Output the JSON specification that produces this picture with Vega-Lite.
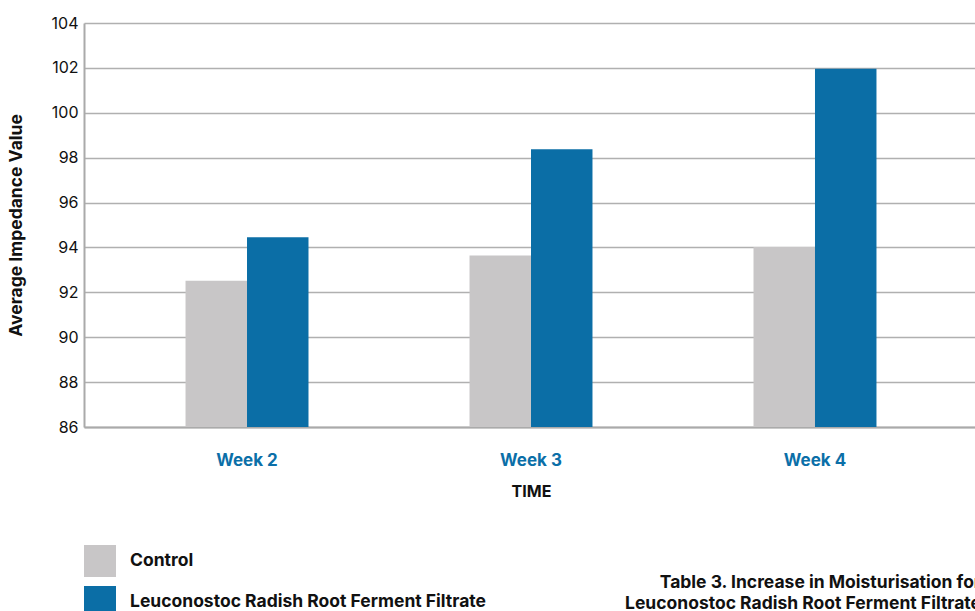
{
  "$schema": "https://vega.github.io/schema/vega-lite/v6.json",
  "autosize": {"type": "none"},
  "padding": {"left": 84, "top": 23, "right": 0, "bottom": 184},
  "width": 894,
  "height": 404,
  "background": "white",
  "config": {
    "view": {"stroke": null},
    "font": "Inter"
  },
  "title": {
    "text": ["Table 3. Increase in Moisturisation for", "Leuconostoc Radish Root Ferment Filtrate"],
    "orient": "bottom",
    "anchor": "end",
    "align": "right",
    "frame": "group",
    "baseline": "top",
    "dx": 3,
    "offset": -44,
    "fontSize": 17.5,
    "fontWeight": "bold",
    "font": "Inter",
    "color": "#111111",
    "lineHeight": 21
  },
  "data": {
    "values": [
      {"week": "Week 2", "group": "Control", "value": 92.52},
      {"week": "Week 2", "group": "Leuconostoc Radish Root Ferment Filtrate", "value": 94.45},
      {"week": "Week 3", "group": "Control", "value": 93.64},
      {"week": "Week 3", "group": "Leuconostoc Radish Root Ferment Filtrate", "value": 98.38},
      {"week": "Week 4", "group": "Control", "value": 94.02},
      {"week": "Week 4", "group": "Leuconostoc Radish Root Ferment Filtrate", "value": 101.96}
    ]
  },
  "mark": {"type": "bar", "clip": true},
  "encoding": {
    "x": {
      "field": "week",
      "type": "nominal",
      "sort": null,
      "scale": {"paddingInner": 0.567, "paddingOuter": 0.3575},
      "axis": {
        "title": "TIME",
        "titleFont": "Inter",
        "titleFontSize": 16,
        "titleFontWeight": "bold",
        "titleColor": "#111111",
        "titlePadding": 15,
        "labelAngle": 0,
        "labelFont": "Inter",
        "labelFontSize": 17,
        "labelFontWeight": "bold",
        "labelColor": "#0b6fa8",
        "labelPadding": 25,
        "ticks": false,
        "domainColor": "#aaaaaa",
        "domainWidth": 2,
        "grid": false
      }
    },
    "xOffset": {
      "field": "group",
      "type": "nominal",
      "sort": ["Control", "Leuconostoc Radish Root Ferment Filtrate"],
      "scale": {"paddingInner": 0, "paddingOuter": 0}
    },
    "y": {
      "field": "value",
      "type": "quantitative",
      "scale": {"domain": [86, 104], "nice": false, "zero": false},
      "axis": {
        "title": "Average Impedance Value",
        "titleFont": "Inter",
        "titleFontSize": 17.5,
        "titleFontWeight": "bold",
        "titleColor": "#111111",
        "titlePadding": 26,
        "values": [86, 88, 90, 92, 94, 96, 98, 100, 102, 104],
        "labelFont": "Inter",
        "labelFontSize": 16,
        "labelColor": "#111111",
        "labelPadding": 6,
        "ticks": false,
        "domainColor": "#aaaaaa",
        "domainWidth": 2,
        "gridColor": "#b0b0b0",
        "gridWidth": 1.6
      }
    },
    "color": {
      "field": "group",
      "type": "nominal",
      "sort": ["Control", "Leuconostoc Radish Root Ferment Filtrate"],
      "scale": {"range": ["#c8c6c7", "#0b6ea6"]},
      "legend": {
        "orient": "none",
        "legendX": 0,
        "legendY": 522,
        "title": null,
        "symbolType": "square",
        "symbolSize": 1024,
        "symbolStrokeWidth": 0,
        "symbolOpacity": 1,
        "rowPadding": 9,
        "labelFont": "Inter",
        "labelFontSize": 17.5,
        "labelFontWeight": "bold",
        "labelColor": "#111111",
        "labelOffset": 14,
        "labelLimit": 500
      }
    }
  }
}
